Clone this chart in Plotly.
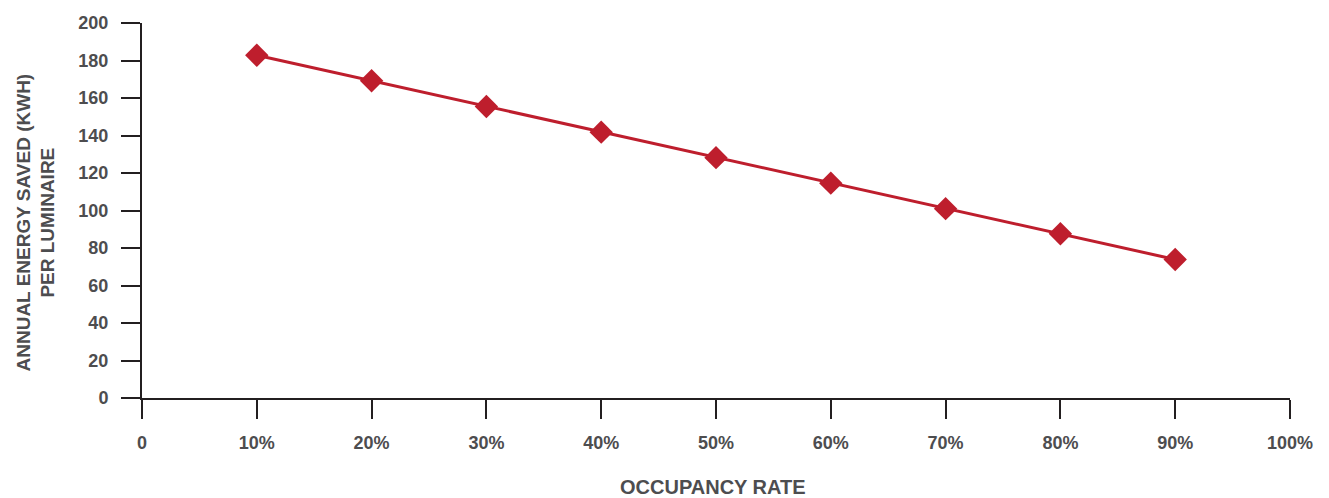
import plotly.graph_objects as go

# Occupancy rate (%) and annual energy saved per luminaire (kWh)
occupancy = [10, 20, 30, 40, 50, 60, 70, 80, 90]
energy_saved = [182.8, 169.2, 155.5, 141.8, 128.2, 114.6, 101.0, 87.6, 73.9]

x_tickvals = [0, 10, 20, 30, 40, 50, 60, 70, 80, 90, 100]
x_ticktext = ["0", "10%", "20%", "30%", "40%", "50%", "60%", "70%", "80%", "90%", "100%"]
y_tickvals = [0, 20, 40, 60, 80, 100, 120, 140, 160, 180, 200]

FONT = "Liberation Sans Narrow, Liberation Sans, Arial, sans-serif"
LABEL_COLOR = "#4d4d4f"
AXIS_COLOR = "#231f20"
RED = "#be1e2d"

fig = go.Figure()
fig.add_trace(go.Scatter(
    x=occupancy,
    y=energy_saved,
    mode="lines+markers",
    line=dict(color=RED, width=3),
    marker=dict(symbol="diamond", size=18, color=RED),
    showlegend=False,
    cliponaxis=False,
))

axis_common = dict(
    showgrid=False,
    zeroline=False,
    showline=True,
    linecolor=AXIS_COLOR,
    linewidth=2,
    ticks="outside",
    ticklen=19,
    tickwidth=2,
    tickcolor=AXIS_COLOR,
    tickfont=dict(family=FONT, size=18, color=LABEL_COLOR, weight="bold"),
)

fig.update_xaxes(
    range=[0, 100],
    tickmode="array",
    tickvals=x_tickvals,
    ticktext=x_ticktext,
    ticklabelstandoff=8,
    **axis_common,
)
fig.update_yaxes(
    range=[0, 200],
    tickmode="array",
    tickvals=y_tickvals,
    ticklabelstandoff=9,
    **axis_common,
)

fig.add_annotation(
    text="<b>OCCUPANCY RATE</b>",
    xref="paper", yref="paper",
    x=0.497, y=-0.238,
    xanchor="center", yanchor="middle",
    showarrow=False,
    font=dict(family=FONT, size=20, color=LABEL_COLOR),
)
fig.add_annotation(
    text="<b>ANNUAL ENERGY SAVED (KWH)<br>PER LUMINAIRE</b>",
    xref="paper", yref="paper",
    x=0, y=0.5,
    xshift=-107, yshift=-12,
    xanchor="center", yanchor="middle",
    textangle=-90,
    showarrow=False,
    font=dict(family=FONT, size=19, color=LABEL_COLOR),
)

fig.update_layout(
    width=1329,
    height=498,
    margin=dict(l=142, r=39, t=23, b=100),
    paper_bgcolor="white",
    plot_bgcolor="white",
    font=dict(family=FONT, color=LABEL_COLOR),
)

fig.write_html("out.html")
